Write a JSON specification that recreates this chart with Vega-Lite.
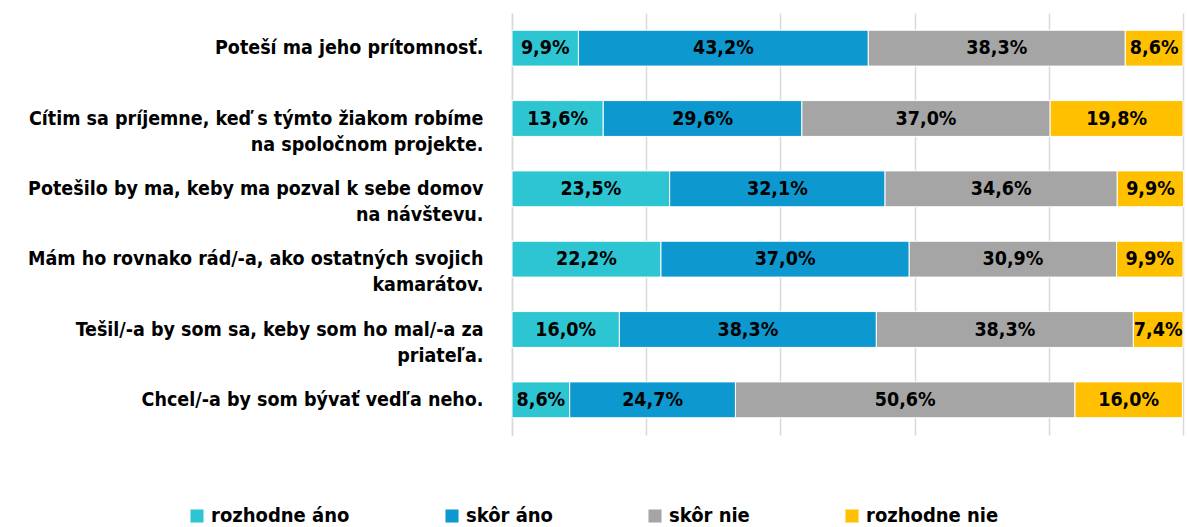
{
  "$schema": "https://vega.github.io/schema/vega-lite/v6.json",
  "autosize": "none",
  "width": 671,
  "height": 422,
  "padding": {"left": 512, "top": 13, "right": 4, "bottom": 92},
  "background": "white",
  "config": {
    "view": {"stroke": null},
    "font": "DejaVu Sans Condensed, DejaVu Sans, sans-serif"
  },
  "data": {
    "values": [
      {"q": "Poteší ma jeho prítomnosť.", "r": "rozhodne áno", "k": 1, "v": 9.9},
      {"q": "Poteší ma jeho prítomnosť.", "r": "skôr áno", "k": 2, "v": 43.2},
      {"q": "Poteší ma jeho prítomnosť.", "r": "skôr nie", "k": 3, "v": 38.3},
      {"q": "Poteší ma jeho prítomnosť.", "r": "rozhodne nie", "k": 4, "v": 8.6},
      {"q": "Cítim sa príjemne, keď s týmto žiakom robíme|na spoločnom projekte.", "r": "rozhodne áno", "k": 1, "v": 13.6},
      {"q": "Cítim sa príjemne, keď s týmto žiakom robíme|na spoločnom projekte.", "r": "skôr áno", "k": 2, "v": 29.6},
      {"q": "Cítim sa príjemne, keď s týmto žiakom robíme|na spoločnom projekte.", "r": "skôr nie", "k": 3, "v": 37.0},
      {"q": "Cítim sa príjemne, keď s týmto žiakom robíme|na spoločnom projekte.", "r": "rozhodne nie", "k": 4, "v": 19.8},
      {"q": "Potešilo by ma, keby ma pozval k sebe domov|na návštevu.", "r": "rozhodne áno", "k": 1, "v": 23.5},
      {"q": "Potešilo by ma, keby ma pozval k sebe domov|na návštevu.", "r": "skôr áno", "k": 2, "v": 32.1},
      {"q": "Potešilo by ma, keby ma pozval k sebe domov|na návštevu.", "r": "skôr nie", "k": 3, "v": 34.6},
      {"q": "Potešilo by ma, keby ma pozval k sebe domov|na návštevu.", "r": "rozhodne nie", "k": 4, "v": 9.9},
      {"q": "Mám ho rovnako rád/-a,  ako ostatných svojich|kamarátov.", "r": "rozhodne áno", "k": 1, "v": 22.2},
      {"q": "Mám ho rovnako rád/-a,  ako ostatných svojich|kamarátov.", "r": "skôr áno", "k": 2, "v": 37.0},
      {"q": "Mám ho rovnako rád/-a,  ako ostatných svojich|kamarátov.", "r": "skôr nie", "k": 3, "v": 30.9},
      {"q": "Mám ho rovnako rád/-a,  ako ostatných svojich|kamarátov.", "r": "rozhodne nie", "k": 4, "v": 9.9},
      {"q": "Tešil/-a by som sa, keby som ho mal/-a za|priateľa.", "r": "rozhodne áno", "k": 1, "v": 16.0},
      {"q": "Tešil/-a by som sa, keby som ho mal/-a za|priateľa.", "r": "skôr áno", "k": 2, "v": 38.3},
      {"q": "Tešil/-a by som sa, keby som ho mal/-a za|priateľa.", "r": "skôr nie", "k": 3, "v": 38.3},
      {"q": "Tešil/-a by som sa, keby som ho mal/-a za|priateľa.", "r": "rozhodne nie", "k": 4, "v": 7.4},
      {"q": "Chcel/-a by som bývať vedľa neho.", "r": "rozhodne áno", "k": 1, "v": 8.6},
      {"q": "Chcel/-a by som bývať vedľa neho.", "r": "skôr áno", "k": 2, "v": 24.7},
      {"q": "Chcel/-a by som bývať vedľa neho.", "r": "skôr nie", "k": 3, "v": 50.6},
      {"q": "Chcel/-a by som bývať vedľa neho.", "r": "rozhodne nie", "k": 4, "v": 16.0}
    ]
  },
  "transform": [
    {"calculate": "replace(format(datum.v, '.1f'), '.', ',') + '%'", "as": "lbl"}
  ],
  "encoding": {
    "y": {
      "field": "q",
      "type": "nominal",
      "sort": null,
      "scale": {"paddingInner": 0.49, "paddingOuter": 0.245},
      "axis": {
        "title": null,
        "labelExpr": "split(datum.label, '|')",
        "labelFont": "DejaVu Sans Condensed, DejaVu Sans, sans-serif",
        "labelFontWeight": "bold",
        "labelFontSize": 19.5,
        "labelColor": "#000000",
        "labelLineHeight": 26,
        "labelPadding": 29,
        "labelLimit": 600,
        "ticks": false,
        "domain": true,
        "domainColor": "#d9d9d9",
        "domainWidth": 1.5
      }
    },
    "x": {
      "field": "v",
      "type": "quantitative",
      "stack": "zero",
      "scale": {"domain": [0, 100], "nice": false},
      "axis": {
        "title": null,
        "labels": false,
        "ticks": false,
        "domain": false,
        "values": [0, 20, 40, 60, 80, 100],
        "gridColor": "#d9d9d9",
        "gridWidth": 1.5
      }
    },
    "order": {"field": "k", "type": "quantitative"}
  },
  "layer": [
    {
      "mark": {"type": "bar", "stroke": "#ffffff", "strokeWidth": 1},
      "encoding": {
        "color": {
          "field": "r",
          "type": "nominal",
          "scale": {
            "domain": ["rozhodne áno", "skôr áno", "skôr nie", "rozhodne nie"],
            "range": ["#2ec5d3", "#0e98d0", "#a5a5a5", "#ffc000"]
          },
          "legend": {
            "title": null,
            "orient": "none",
            "direction": "horizontal",
            "legendX": -325,
            "legendY": 493,
            "symbolType": "square",
            "symbolSize": 170,
            "symbolStrokeWidth": 0,
            "symbolOpacity": 1,
            "labelFont": "DejaVu Sans Condensed, DejaVu Sans, sans-serif",
            "labelFontWeight": "bold",
            "labelFontSize": 20,
            "labelColor": "#000000",
            "labelOffset": 4,
            "columnPadding": 92,
            "labelLimit": 300
          }
        }
      }
    },
    {
      "mark": {
        "type": "text",
        "font": "DejaVu Sans Condensed, DejaVu Sans, sans-serif",
        "fontWeight": "bold",
        "fontSize": 19.5,
        "color": "#000000",
        "baseline": "middle",
        "align": "center"
      },
      "encoding": {
        "x": {"field": "v", "type": "quantitative", "stack": "zero", "bandPosition": 0.5},
        "text": {"field": "lbl"}
      }
    }
  ]
}
